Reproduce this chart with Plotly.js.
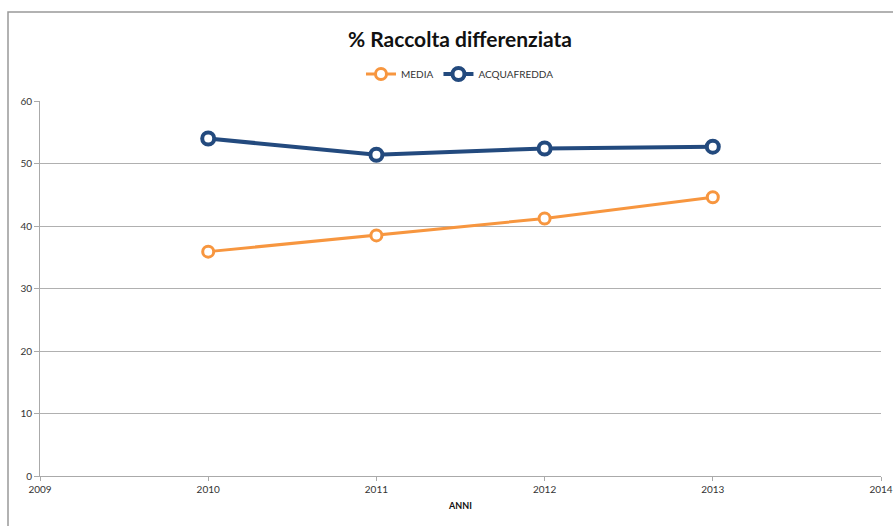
<!DOCTYPE html>
<html>
<head>
<meta charset="utf-8">
<script src="https://cdn.plot.ly/plotly-3.0.1.min.js"></script>
<style>html,body{margin:0;padding:0;background:#fff;}#chart{width:893px;height:526px;}</style>
</head>
<body>
<div id="chart"></div>
<script>
const years = [2010, 2011, 2012, 2013];
const media = [35.9, 38.5, 41.2, 44.6];
const acquafredda = [54.0, 51.4, 52.4, 52.7];
const xTicks = [2009, 2010, 2011, 2012, 2013, 2014];
const yTicks = [0, 10, 20, 30, 40, 50, 60];

const traces = [
  {x: years, y: media, name: 'MEDIA', type: 'scatter', mode: 'lines+markers',
   line: {color: '#F7963F', width: 3},
   marker: {symbol: 'circle', size: 11, color: '#ffffff', line: {color: '#F7963F', width: 3}}},
  {x: years, y: acquafredda, name: 'ACQUAFREDDA', type: 'scatter', mode: 'lines+markers',
   line: {color: '#234A7E', width: 4},
   marker: {symbol: 'circle', size: 12, color: '#ffffff', line: {color: '#234A7E', width: 4}}}
];

const layout = {
  width: 893, height: 526,
  margin: {l: 40, r: 12, t: 101, b: 50},
  paper_bgcolor: '#ffffff', plot_bgcolor: '#ffffff',
  font: {family: 'Lato, "Open Sans", sans-serif', color: '#333', size: 10},
  title: {text: '<b>% Raccolta differenziata</b>', x: 0.4994, xref: 'paper', xanchor: 'center',
          y: 1 - 40/526, yanchor: 'middle', font: {size: 21, color: '#111', family: 'Lato, sans-serif'}},
  showlegend: true,
  legend: {orientation: 'h', x: 0.4994, xanchor: 'center', y: 1.072, yanchor: 'middle',
           font: {size: 10, color: '#333'}, itemwidth: 30, tracegroupgap: 0},
  xaxis: {range: [2009, 2014], tickvals: xTicks, ticktext: xTicks.map(String),
          showgrid: false, zeroline: false, showline: true, linecolor: '#aaa', linewidth: 1,
          ticks: 'outside', ticklen: 4, tickcolor: '#aaa',
          tickfont: {size: 10, color: '#333'},
          title: {text: '<b>ANNI</b>', font: {size: 9, color: '#111'}, standoff: 8}},
  yaxis: {range: [0, 60], tickvals: yTicks, showgrid: true, gridcolor: '#b0b0b0', gridwidth: 1,
          zeroline: false, showline: true, linecolor: '#aaa', linewidth: 1,
          ticks: 'outside', ticklen: 5, tickcolor: '#aaa',
          tickfont: {size: 10, color: '#333'}},
  shapes: [
    {type: 'rect', xref: 'paper', yref: 'paper', x0: -32/841, x1: 1.1, y0: -0.3, y1: (476-12)/375,
     line: {color: '#999', width: 1.5}, fillcolor: 'rgba(0,0,0,0)', layer: 'below'}
  ]
};

Plotly.newPlot('chart', traces, layout, {displayModeBar: false, staticPlot: true});
</script>
</body>
</html>
